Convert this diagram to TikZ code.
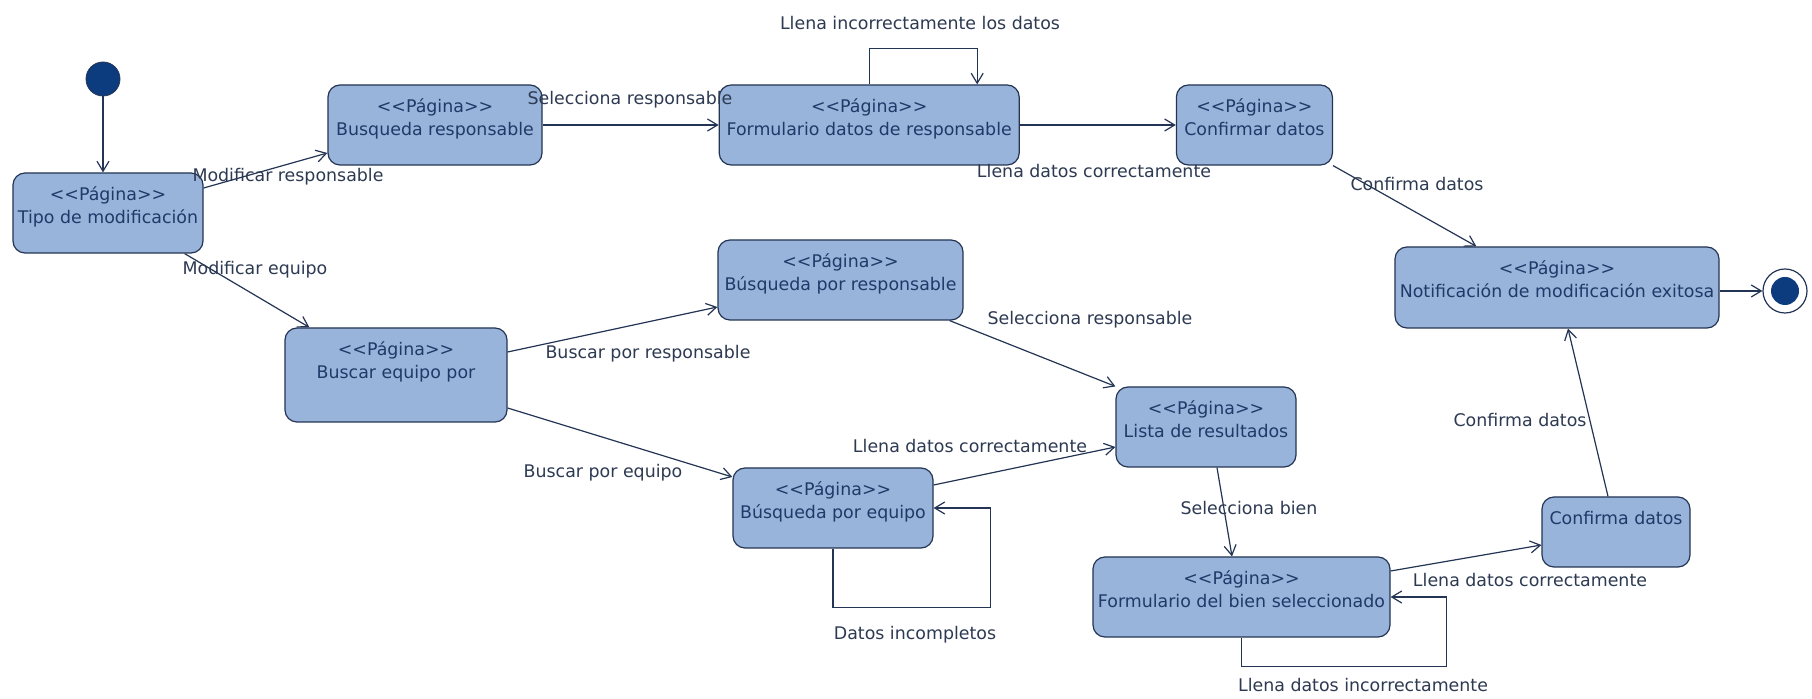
\documentclass[tikz,border=0pt]{standalone}
\usepackage{fontspec}
\newfontfamily\umlfont{DejaVu Sans}
\usepackage{tikz}
\usetikzlibrary{arrows.meta,positioning}
\definecolor{umlfill}{RGB}{153,180,218}
\definecolor{umlline}{RGB}{36,52,84}
\definecolor{umltext}{RGB}{31,58,105}
\definecolor{lbltext}{RGB}{45,58,82}
\definecolor{umldot}{RGB}{12,60,125}
\newcommand{\pag}{<{}<Página>{}>}

\begin{document}
\begin{tikzpicture}[x=0.5pt,y=-0.5pt,
  pg/.style={rectangle,rounded corners=6pt,draw=umlline,fill=umlfill,line width=0.6pt,inner sep=0pt,label={[pgtxt]north:{#1}}},
  pgtxt/.style={anchor=north,yshift=-7pt,inner sep=0pt,align=center,text=umltext,font=\umlfont\fontsize{8.7}{11.5}\selectfont},
  lbl/.style={inner sep=0pt,text=lbltext,font=\umlfont\fontsize{8.7}{11.5}\selectfont},
  arr/.style={-{Straight Barb[length=5pt,width=6pt]},line width=0.6pt,draw=umlline}
]
\path[use as bounding box,fill=white] (0,0) rectangle (1812,699);

% estados
\node[circle,fill=umldot,draw=umlline,minimum size=17pt,inner sep=0pt] (ini) at (103,79) {};
\node[pg={\pag\\Tipo de modificación},minimum width=95pt,minimum height=40pt] (tipo) at (108,213) {};
\node[pg={\pag\\Busqueda responsable},minimum width=107pt,minimum height=40pt] (busq) at (435,125) {};
\node[pg={\pag\\Formulario datos de responsable},minimum width=150pt,minimum height=40pt,right=88pt of busq] (frmr) {};
\node[pg={\pag\\Confirmar datos},minimum width=78pt,minimum height=40pt,right=78pt of frmr] (conf) {};
\node[pg={\pag\\Notificación de modificación exitosa},minimum width=162pt,minimum height=40.5pt] (notif) at (1557,287.5) {};
\node[circle,draw=umlline,fill=white,line width=0.6pt,minimum size=22pt,inner sep=0pt,
  path picture={\fill[umldot] (path picture bounding box.center) circle (7pt);}] (fin) at (1785,291) {};
\node[pg={\pag\\Buscar equipo por},minimum width=111pt,minimum height=47pt] (beq) at (396,375) {};
\node[pg={\pag\\Búsqueda por responsable},minimum width=122.5pt,minimum height=40pt] (bpr) at (840.5,280) {};
\node[pg={\pag\\Lista de resultados},minimum width=90pt,minimum height=40pt] (lista) at (1206,427) {};
\node[pg={\pag\\Búsqueda por equipo},minimum width=100pt,minimum height=40pt] (bpe) at (833,508) {};
\node[pg={\pag\\Formulario del bien seleccionado},minimum width=148.5pt,minimum height=40pt] (fbien) at (1241.5,597) {};
\node[pg={Confirma datos},minimum width=74pt,minimum height=35pt] (cfd) at (1616,532) {};

% transiciones
\draw[arr] (ini) -- (ini |- tipo.north);
\draw[arr] ([yshift=12.5pt]tipo.east) -- ([yshift=-14pt]busq.west);
\draw[arr] (busq) -- (frmr);
\draw[arr] (frmr.north) -- ++(0,-36) -| ([xshift=54pt]frmr.north);
\draw[arr] (frmr) -- (conf);
\draw[arr] (conf.south east) -- ([xshift=41pt]notif.north west);
\draw[arr] (notif.east |- fin) -- (fin);
\draw[arr] ([xshift=-9.5pt]tipo.south east) -- ([xshift=12.5pt]beq.north west);
\draw[arr] ([yshift=11.5pt]beq.east) -- ([yshift=-13.5pt]bpr.west);
\draw[arr] ([yshift=-16.5pt]beq.east) -- ([yshift=15.5pt]bpe.west);
\draw[arr] ([xshift=-7pt]bpr.south east) -- (lista.north west);
\draw[arr] ([yshift=11.5pt]bpe.east) -- ([yshift=-10pt]lista.west);
\draw[arr] (bpe.south) -- ++(0,59) -| ([xshift=28.5pt]bpe.east) -- (bpe.east);
\draw[arr] ([xshift=5.5pt]lista.south) -- ([xshift=-4.75pt]fbien.north);
\draw[arr] ([yshift=13pt]fbien.east) -- ([yshift=-6.5pt]cfd.west);
\draw[arr] (fbien.south) -- ++(0,29) -| ([xshift=28pt]fbien.east) -- (fbien.east);
\draw[arr] ([xshift=-4pt]cfd.north) -- ([xshift=5.5pt]notif.south);

% etiquetas
\node[lbl] (lmr) at (288,177) {Modificar responsable};
\node[lbl] (lme) at (255,270) {Modificar equipo};
\node[lbl] (lsr1) at (630,100) {Selecciona responsable};
\node[lbl] (lli1) at (920,23) {Llena incorrectamente los datos};
\node[lbl] (llc1) at (1094,171) {Llena datos correctamente};
\node[lbl] (lcd1) at (1417,184) {Confirma datos};
\node[lbl] (lbr) at (648,354) {Buscar por responsable};
\node[lbl] (lsr2) at (1090,320) {Selecciona responsable};
\node[lbl] (lbe) at (603,473) {Buscar por equipo};
\node[lbl] (llc2) at (970,446) {Llena datos correctamente};
\node[lbl] (ldi) at (915,635) {Datos incompletos};
\node[lbl] (lsb) at (1249,508) {Selecciona bien};
\node[lbl] (lcd2) at (1520,420) {Confirma datos};
\node[lbl] (llc3) at (1530,580) {Llena datos correctamente};
\node[lbl] (lli2) at (1363,685) {Llena datos incorrectamente};
\end{tikzpicture}
\end{document}
